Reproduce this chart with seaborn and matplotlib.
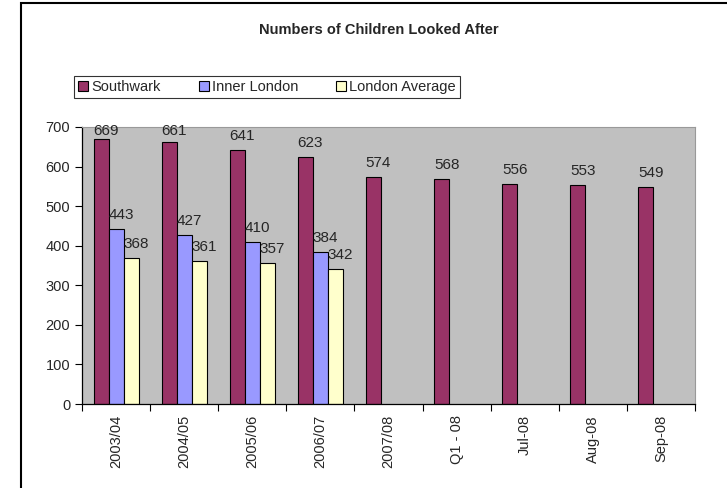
import pandas as pd
import matplotlib.pyplot as plt
import matplotlib.patches as mpatches
import seaborn as sns

# data
periods = ["2003/04", "2004/05", "2005/06", "2006/07", "2007/08",
           "Q1 - 08", "Jul-08", "Aug-08", "Sep-08"]
southwark = [669, 661, 641, 623, 574, 568, 556, 553, 549]
inner_london = [443, 427, 410, 384]
london_avg = [368, 361, 357, 342]
series = ["Southwark", "Inner London", "London Average"]
colours = {"Southwark": "#993366", "Inner London": "#9999FF", "London Average": "#FFFFCC"}

rows = []
for p, v in zip(periods, southwark):
    rows.append((p, "Southwark", v))
for p, v in zip(periods, inner_london):
    rows.append((p, "Inner London", v))
for p, v in zip(periods, london_avg):
    rows.append((p, "London Average", v))
df = pd.DataFrame(rows, columns=["Period", "Series", "Children"])

sns.set_style("white")
plt.rcParams["font.family"] = ["Liberation Sans", "DejaVu Sans"]

fig = plt.figure(figsize=(7.27, 4.88), dpi=100)
ax = fig.add_axes([82 / 727, 1 - 404 / 488, (695 - 82) / 727, (404 - 127) / 488])

sns.barplot(data=df, x="Period", y="Children", hue="Series", order=periods,
            hue_order=series, palette=colours, saturation=1, width=0.66,
            errorbar=None, edgecolor="black", linewidth=0.8, ax=ax)

ymax = 700
px_per_unit = (404 - 127) / ymax
for cont in ax.containers:
    anns = ax.bar_label(cont, fmt="%g", padding=5, fontsize=11)
    # Excel shifts labels a bit right and squeezes them under the top of the plot area
    for ann, v in zip(anns, cont.datavalues):
        gap = min(7, max(1, (ymax - v) * px_per_unit - 11))
        ann.xyann = (5 * 0.72, gap * 0.72)

ax.set_facecolor("#C0C0C0")
ax.set_ylim(0, ymax)
ax.set_yticks(range(0, 701, 100))
ax.set_xlim(-0.5, len(periods) - 0.5)
ax.set_xlabel("")
ax.set_ylabel("")
ax.tick_params(axis="y", length=5, width=0.8, direction="out", left=True, labelsize=10.5, color="black")
ax.tick_params(axis="x", which="major", length=0, labelsize=10.5, rotation=90, pad=8)
ax.set_xticks([i - 0.5 for i in range(len(periods) + 1)], minor=True)
ax.tick_params(axis="x", which="minor", length=5, width=0.8, direction="out", bottom=True, color="black")
for s in ["top", "right"]:
    ax.spines[s].set_color("#999999")
    ax.spines[s].set_linewidth(0.8)
for s in ["left", "bottom"]:
    ax.spines[s].set_color("black")
    ax.spines[s].set_linewidth(0.9)

ax.legend_.remove()
handles = [mpatches.Patch(facecolor=colours[s], edgecolor="black", linewidth=0.8) for s in series]
leg = fig.legend(handles, series, loc="center", bbox_to_anchor=(267 / 727, 1 - 87 / 488),
                 ncol=3, fontsize=10.5, frameon=True, fancybox=False,
                 handlelength=0.7, handleheight=0.7, handletextpad=0.2,
                 columnspacing=2.6, borderpad=0.3)
leg.get_frame().set_edgecolor("black")
leg.get_frame().set_linewidth(0.8)

fig.text(379 / 727, 1 - 30 / 488, "Numbers of Children Looked After",
         ha="center", va="center", fontsize=10.5, fontweight="bold")

fig.patches.append(mpatches.Rectangle((21 / 727, -0.05), 1.0, 1.05 - 3 / 488,
                                      transform=fig.transFigure, fill=False,
                                      edgecolor="black", linewidth=1.5))

fig.savefig("out.png", dpi=100)
